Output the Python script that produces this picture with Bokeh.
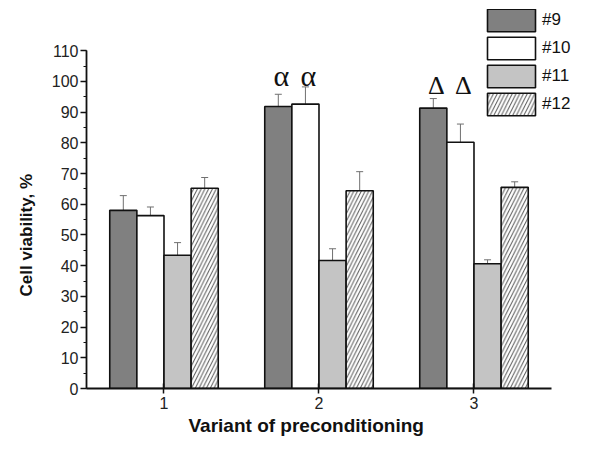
from bokeh.plotting import figure
from bokeh.models import (ColumnDataSource, FixedTicker, Whisker, TeeHead, Legend, LegendItem, Title)
from bokeh.core.properties import value
from bokeh.embed import file_html
from bokeh.resources import INLINE

groups = [1, 2, 3]
series = ["#9", "#10", "#11", "#12"]
values = {
    "#9":  [58.0, 91.8, 91.3],
    "#10": [56.3, 92.6, 80.2],
    "#11": [43.4, 41.7, 40.6],
    "#12": [65.2, 64.4, 65.5],
}
errors = {
    "#9":  [4.8, 4.0, 3.1],
    "#10": [2.8, 5.6, 5.9],
    "#11": [4.1, 3.8, 1.3],
    "#12": [3.5, 6.2, 1.8],
}
fills = {"#9": "#808080", "#10": "#ffffff", "#11": "#c4c4c4", "#12": "#ffffff"}
hatches = {"#9": None, "#10": None, "#11": None, "#12": "/"}

# significance marks
mark_group = [2, 2, 3, 3]
mark_series = ["#9", "#10", "#9", "#10"]
mark_text = ["α", "α", "Δ", "Δ"]
mark_level = [101.9, 101.9, 98.8, 98.8]
mark_size = ["30px", "30px", "26px", "26px"]

y_ticks = list(range(0, 111, 10))
y_minor = list(range(0, 111, 5))

bar_w = 0.175
offsets = {s: (i - 1.5) * bar_w for i, s in enumerate(series)}

# frame extends beyond the axes' bounds so that the legend (top right) is not clipped
p = figure(width=573, height=441, output_backend="svg", toolbar_location=None,
           x_range=(0.5, 3.642), y_range=(0, 123.4),
           min_border_left=86, min_border_right=0, min_border_top=9, min_border_bottom=53)
p.outline_line_color = None
p.xgrid.visible = False
p.ygrid.visible = False
p.background_fill_color = "white"

renderers = {}
for s in series:
    src = ColumnDataSource(dict(
        x=[g + offsets[s] for g in groups],
        top=values[s],
        upper=[v + e for v, e in zip(values[s], errors[s])],
        lower=[v - e for v, e in zip(values[s], errors[s])],
    ))
    kw = {}
    if hatches[s]:
        kw = dict(hatch_pattern=hatches[s], hatch_color="#555555", hatch_scale=7.5, hatch_weight=1)
    r = p.vbar(x="x", top="top", bottom=0, width=bar_w, source=src,
               fill_color=fills[s], line_color="#111111", line_width=1.6, **kw)
    renderers[s] = r
    w = Whisker(base="x", upper="upper", lower="lower", source=src,
                line_color="#707070", line_width=1,
                upper_head=TeeHead(size=7, line_color="#707070", line_width=1),
                lower_head=TeeHead(size=7, line_color="#707070", line_width=1))
    p.add_layout(w)

msrc = ColumnDataSource(dict(
    x=[g + offsets[s] for g, s in zip(mark_group, mark_series)],
    y=mark_level, t=mark_text, fs=mark_size))
p.text(x="x", y="y", text="t", source=msrc, text_align="center", text_baseline="alphabetic",
       x_offset=3, text_font=value("Liberation Serif"), text_font_size="fs", text_color="#111111")

# axes
p.xaxis.ticker = FixedTicker(ticks=groups)
p.xaxis.bounds = (0.5, 3.5)
p.xaxis.major_tick_in = 5
p.xaxis.major_tick_out = 5
p.yaxis.ticker = FixedTicker(ticks=y_ticks, minor_ticks=y_minor)
p.yaxis.bounds = (0, 110)
p.yaxis.major_tick_in = 0
p.yaxis.major_tick_out = 6
p.yaxis.minor_tick_in = 0
p.yaxis.minor_tick_out = 3
for ax in (p.xaxis, p.yaxis):
    ax.axis_line_width = 1.8
    ax.axis_line_color = "#111111"
    ax.major_tick_line_width = 1.5
    ax.major_tick_line_color = "#111111"
    ax.minor_tick_line_width = 1.2
    ax.minor_tick_line_color = "#111111"
    ax.major_label_text_font = "Liberation Sans"
    ax.major_label_text_font_size = "16px"
    ax.major_label_text_color = "#222222"
p.xaxis.minor_tick_line_color = None
p.xaxis.major_label_standoff = 3
p.yaxis.major_label_standoff = 2

# axis titles (placed as side titles so they can sit off-centre like the original)
xtitle = Title(text="Variant of preconditioning", align="left", offset=102, standoff=2,
               text_font="Liberation Sans", text_font_style="bold", text_font_size="19px",
               text_color="#111111")
p.add_layout(xtitle, "below")
ytitle = Title(text="Cell viability, %", align="left", offset=92, standoff=25,
               text_font="Liberation Sans", text_font_style="bold", text_font_size="17px",
               text_color="#111111")
p.add_layout(ytitle, "left")

legend = Legend(items=[LegendItem(label=s, renderers=[renderers[s]]) for s in series],
                location=(395, 270), orientation="vertical",
                glyph_width=60, glyph_height=28, spacing=0, padding=0, margin=0,
                label_standoff=1, label_text_font="Liberation Sans", label_text_font_size="17px",
                label_text_color="#111111", label_height=20,
                border_line_alpha=0, background_fill_alpha=0)
p.add_layout(legend, "center")

open("out.html", "w").write(file_html(p, INLINE))
